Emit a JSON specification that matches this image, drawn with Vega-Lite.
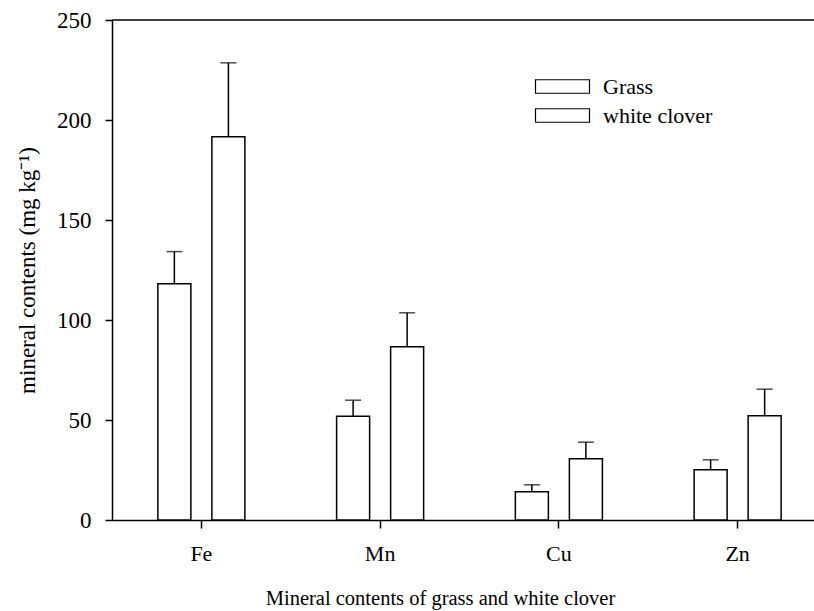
{
  "$schema": "https://vega.github.io/schema/vega-lite/v6.json",
  "width": 702,
  "height": 500,
  "autosize": "none",
  "padding": {"left": 112, "top": 20, "right": 0, "bottom": 91},
  "background": "white",
  "config": {
    "font": "Liberation Serif",
    "view": {"stroke": null},
    "axis": {"labelColor": "black", "titleColor": "black", "titleFontWeight": "normal", "grid": false}
  },
  "data": {
    "values": [
      {"mineral": "Fe", "plant": "Grass", "mean": 118.1, "upper": 134.2},
      {"mineral": "Fe", "plant": "white clover", "mean": 191.6, "upper": 228.6},
      {"mineral": "Mn", "plant": "Grass", "mean": 51.9, "upper": 59.9},
      {"mineral": "Mn", "plant": "white clover", "mean": 86.6, "upper": 103.6},
      {"mineral": "Cu", "plant": "Grass", "mean": 14.1, "upper": 17.6},
      {"mineral": "Cu", "plant": "white clover", "mean": 30.6, "upper": 38.9},
      {"mineral": "Zn", "plant": "Grass", "mean": 25.1, "upper": 30.1},
      {"mineral": "Zn", "plant": "white clover", "mean": 52.1, "upper": 65.4}
    ]
  },
  "layer": [
    {
      "mark": {"type": "bar", "stroke": "black", "strokeWidth": 1.5},
      "encoding": {
        "x": {
          "field": "mineral",
          "type": "nominal",
          "sort": ["Fe", "Mn", "Cu", "Zn"],
          "scale": {"range": [0, 715], "paddingInner": 0, "paddingOuter": 0},
          "axis": {
            "title": "Mineral contents of grass and white clover",
            "titleFontSize": 20.5,
            "titlePadding": 24,
            "titleX": 328,
            "labelFontSize": 22,
            "labelAngle": 0,
            "labelPadding": 15,
            "tickSize": 8,
            "tickWidth": 1.5,
            "tickColor": "black",
            "domainColor": "black",
            "domainWidth": 1.5
          }
        },
        "xOffset": {
          "field": "plant",
          "type": "nominal",
          "sort": ["Grass", "white clover"],
          "scale": {"paddingInner": 0.389, "paddingOuter": 0.849}
        },
        "y": {
          "field": "mean",
          "type": "quantitative",
          "scale": {"domain": [0, 250], "nice": false},
          "axis": {
            "title": "mineral contents (mg kg⁻¹)",
            "titleFontSize": 23,
            "titlePadding": 17,
            "values": [0, 50, 100, 150, 200, 250],
            "labelFontSize": 23,
            "labelPadding": 14,
            "tickSize": 7,
            "tickWidth": 1.5,
            "tickColor": "black",
            "domainColor": "black",
            "domainWidth": 1.5
          }
        },
        "color": {
          "field": "plant",
          "type": "nominal",
          "sort": ["Grass", "white clover"],
          "scale": {"range": ["white", "white"]},
          "legend": {
            "orient": "none",
            "legendX": 436,
            "legendY": 52,
            "title": null,
            "labelFontSize": 22,
            "labelColor": "black",
            "symbolType": "M-2,-0.5H2V0.5H-2Z",
            "symbolSize": 729,
            "symbolStrokeColor": "black",
            "symbolStrokeWidth": 1.2,
            "labelOffset": 26,
            "rowPadding": 3
          }
        }
      }
    },
    {
      "mark": {"type": "rule", "strokeWidth": 1.5, "color": "black"},
      "encoding": {
        "x": {"field": "mineral", "type": "nominal", "sort": ["Fe", "Mn", "Cu", "Zn"]},
        "xOffset": {"field": "plant", "type": "nominal", "sort": ["Grass", "white clover"]},
        "y": {"field": "mean", "type": "quantitative"},
        "y2": {"field": "upper"}
      }
    },
    {
      "mark": {"type": "tick", "size": 16, "thickness": 1.5, "color": "black"},
      "encoding": {
        "x": {"field": "mineral", "type": "nominal", "sort": ["Fe", "Mn", "Cu", "Zn"]},
        "xOffset": {"field": "plant", "type": "nominal", "sort": ["Grass", "white clover"]},
        "y": {"field": "upper", "type": "quantitative"}
      }
    },
    {
      "data": {"values": [{}]},
      "mark": {"type": "rule", "strokeWidth": 1.5, "color": "black"},
      "encoding": {
        "y": {"datum": 250, "type": "quantitative"}
      }
    }
  ]
}
